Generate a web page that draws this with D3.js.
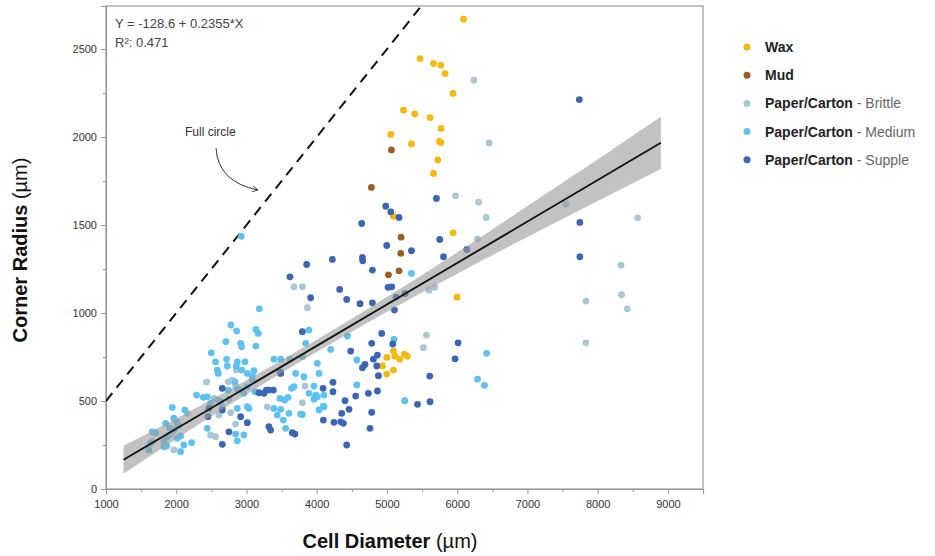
<!DOCTYPE html>
<html>
<head>
<meta charset="utf-8">
<script src="https://cdn.jsdelivr.net/npm/d3@7"></script>
<style>
  body { margin: 0; background: #fff; }
  svg { font-family: "Liberation Sans", Arial, Helvetica, sans-serif; }
</style>
</head>
<body>
<div class="chart"></div>
<script>
// categories + colours
const seriesNames = ["Wax", "Mud", "Paper/Carton - Brittle", "Paper/Carton - Medium", "Paper/Carton - Supple"];
const seriesColors = ["#f5b80c", "#9a5e24", "#a9c6d5", "#5ec2ee", "#3b66b6"];

// points: [cell diameter, corner radius] in µm
const waxPts = [[6090,2670],[5472,2446],[5663,2418],[5767,2408],[5828,2361],[5942,2248],[5235,2153],[5396,2132],
  [5614,2111],[5771,2049],[5054,2015],[5349,1961],[5748,1975],[5771,1969],[5724,1870],[5663,1793],[5942,1456],
  [6000,1090],[5092,1550],[5093,784],[4997,748],[5115,754],[5182,737],[5249,767],[5292,754],[4936,699],[5093,676],[4997,653]];

const mudPts = [[4779,1714],[5064,1927],[5201,1431],[5197,1339],[5021,1217],[5172,1240]];

const brittlePts = [[6237,2323],[6455,1967],[5976,1666],[6304,1630],[6412,1543],[6290,1422],[7548,1619],[8570,1541],
  [8332,1272],[7833,1068],[8341,1104],[8421,1024],[7833,831],[3867,1030],[5600,1130],[5681,1146],[5563,875],
  [5520,803],[3833,585],[3796,490],[3676,1149],[3796,1149],[2855,676],[2432,608],[2536,515],[2741,609],[2798,619],
  [2845,585],[2656,468],[2750,510],[2607,420],[2774,434],[2845,369],[2489,307],[2560,297],[3297,467],[1966,222],
  [1658,269],[2157,430],[1919,307]];

const mediumPts = [[6290,625],[6389,589],[6418,771],[3890,903],[3843,828],[4437,869],[5101,850],[4199,793],[4570,733],
  [3819,638],[3961,585],[3890,544],[3985,534],[3961,510],[4010,524],[4104,534],[3796,424],[4104,468],[4570,591],
  [5254,502],[3183,1024],[2778,932],[2860,898],[3135,907],[3169,884],[2707,837],[2917,828],[2931,808],[3135,812],
  [2499,774],[2717,737],[2727,699],[2560,723],[2585,676],[2599,657],[2870,723],[2855,699],[2978,723],[2931,676],
  [3012,657],[3106,672],[3083,644],[3391,738],[3487,738],[3619,738],[3700,657],[4010,714],[4033,657],[2290,534],
  [2442,524],[2593,506],[2835,609],[2741,562],[2878,566],[2931,562],[2964,544],[3012,581],[3083,619],[3120,553],
  [2632,496],[2489,487],[2870,458],[3012,468],[2845,312],[2870,274],[2442,345],[3391,458],[3439,420],[3525,392],
  [3487,453],[3605,430],[3771,426],[4095,471],[3558,345],[1943,464],[2123,449],[2385,521],[1848,373],[1966,402],
  [2005,382],[2029,364],[1909,345],[1966,335],[2062,301],[2015,288],[1824,269],[1862,244],[1824,240],[2109,250],
  [2062,212],[1658,325],[1705,320],[1634,260],[1610,222],[2218,263],[1872,297],[3796,752],[3641,572],[3676,581],
  [3477,515],[3544,506],[3591,521],[3035,458],[4033,449],[2964,307],[2926,1437],[5349,1225]];

const supplePts = [[4327,1134],[3914,1087],[4427,1077],[4617,1053],[4793,1058],[5016,1146],[5068,1149],[5130,1091],
  [5258,1111],[5107,1017],[3796,894],[4926,884],[4783,828],[5083,824],[6013,831],[5970,740],[4484,784],[4808,738],
  [4865,761],[4651,689],[4688,708],[4879,644],[4855,699],[5610,642],[4090,572],[4232,606],[4232,553],[4736,544],
  [4865,557],[4555,528],[4403,502],[4460,453],[4356,430],[4246,379],[4342,382],[4380,373],[4783,436],[4759,345],
  [4427,250],[5435,481],[5614,496],[3477,666],[3487,657],[2656,572],[3177,547],[3249,544],[3283,562],[3320,562],
  [3383,562],[2465,458],[2451,411],[3012,377],[2750,325],[2656,254],[3320,354],[3344,335],[3653,320],[3691,312],
  [2656,449],[2917,411],[4095,392],[3857,1276],[4223,1305],[4641,1509],[4651,1316],[4655,1297],[4793,1244],
  [4983,1607],[5054,1575],[4997,1384],[3619,1206],[5172,1543],[5349,1354],[5752,1418],[5805,1320],[6137,1361],
  [5705,1651],[7739,2213],[7747,1515],[7747,1320]];

const allSeries = [waxPts, mudPts, brittlePts, mediumPts, supplePts];

// regression
const intercept = -128.6, slope = 0.2355;
const fitX = [1250, 8900];
const bandX  = [1250, 2000, 3000, 4000, 5000, 6000, 7000, 8000, 8900];
const bandLo = [86, 284, 538, 778, 1007, 1224, 1432, 1637, 1819];
const bandHi = [246, 400, 618, 848, 1091, 1344, 1608, 1873, 2115];

// full circle line (radius = diameter / 2)
const circleX = [1000, 5490];
const circleY = [500, 2745];

const xTicks = [1000, 2000, 3000, 4000, 5000, 6000, 7000, 8000, 9000];
const yTicks = [0, 500, 1000, 1500, 2000, 2500];

const W = 935, H = 556;
const mLeft = 106, mRight = 703, mTop = 6, mBottom = 489;

const svg = d3.select(".chart").append("svg")
  .attr("width", W).attr("height", H);

const x = d3.scaleLinear().domain([1000, 9500]).range([mLeft, mRight]);
const y = d3.scaleLinear().domain([0, 2745]).range([mBottom, mTop]);

svg.append("clipPath").attr("id", "plot")
  .append("rect").attr("x", mLeft).attr("y", mTop)
  .attr("width", mRight - mLeft).attr("height", mBottom - mTop);

// frame
svg.append("rect")
  .attr("x", mLeft).attr("y", mTop)
  .attr("width", mRight - mLeft).attr("height", mBottom - mTop)
  .attr("fill", "none").attr("stroke", "#999").attr("stroke-width", 1.2);

// axes
svg.append("g").attr("transform", `translate(0,${mBottom})`)
  .call(d3.axisBottom(x).tickValues(xTicks).tickFormat(d3.format("d")).tickSize(5).tickPadding(6));
svg.append("g").attr("transform", `translate(0,${mBottom})`)
  .call(d3.axisBottom(x).tickValues(d3.range(1500, 9500, 1000)).tickFormat("").tickSize(3))
  .call(g => g.select(".domain").remove());
svg.append("g").attr("transform", `translate(${mLeft},0)`)
  .call(d3.axisLeft(y).tickValues(yTicks).tickFormat(d3.format("d")).tickSize(5).tickPadding(4));
svg.append("g").attr("transform", `translate(${mLeft},0)`)
  .call(d3.axisLeft(y).tickValues(d3.range(250, 2750, 500)).tickFormat("").tickSize(3))
  .call(g => g.select(".domain").remove());

svg.selectAll(".domain").attr("stroke", "#999").attr("stroke-width", 1.2);
svg.selectAll(".tick line").attr("stroke", "#999");
svg.selectAll(".tick text").attr("font-size", 11).attr("fill", "#333")
  .attr("font-family", "'Liberation Sans', Arial, sans-serif");

const plot = svg.append("g").attr("clip-path", "url(#plot)");

// full circle dashed line
plot.append("line")
  .attr("x1", x(circleX[0])).attr("y1", y(circleY[0]))
  .attr("x2", x(circleX[1])).attr("y2", y(circleY[1]))
  .attr("stroke", "#111").attr("stroke-width", 2)
  .attr("stroke-dasharray", "10,7");

// points
allSeries.forEach((pts, i) => {
  plot.append("g").selectAll("circle")
    .data(pts)
    .join("circle")
    .attr("cx", d => x(d[0]))
    .attr("cy", d => y(d[1]))
    .attr("r", 3.4)
    .attr("fill", seriesColors[i]);
});

// confidence band
const band = bandX.map((v, i) => ({ x: v, lo: bandLo[i], hi: bandHi[i] }));
plot.append("path")
  .datum(band)
  .attr("d", d3.area().x(d => x(d.x)).y0(d => y(d.lo)).y1(d => y(d.hi)).curve(d3.curveMonotoneX))
  .attr("fill", "#9a9a9a").attr("fill-opacity", 0.6);

// fit line
plot.append("line")
  .attr("x1", x(fitX[0])).attr("y1", y(intercept + slope * fitX[0]))
  .attr("x2", x(fitX[1])).attr("y2", y(intercept + slope * fitX[1]))
  .attr("stroke", "#111").attr("stroke-width", 1.8);

// equation text
svg.append("text").attr("x", 115).attr("y", 28)
  .attr("font-size", 13).attr("fill", "#444")
  .text(`Y = ${intercept} + ${slope}*X`);
svg.append("text").attr("x", 115).attr("y", 47)
  .attr("font-size", 13).attr("fill", "#444")
  .text("R²: 0.471");

// annotation
svg.append("text").attr("x", 185).attr("y", 136)
  .attr("font-size", 12).attr("fill", "#333")
  .text("Full circle");
svg.append("defs").append("marker")
  .attr("id", "arrow").attr("viewBox", "0 0 10 10")
  .attr("refX", 9).attr("refY", 5)
  .attr("markerWidth", 7).attr("markerHeight", 7)
  .attr("orient", "auto")
  .append("path").attr("d", "M1,1 L9,5 L1,9").attr("fill", "none").attr("stroke", "#333").attr("stroke-width", 1.2);
svg.append("path")
  .attr("d", "M216,148 Q218,182 258,190")
  .attr("fill", "none").attr("stroke", "#333").attr("stroke-width", 1)
  .attr("marker-end", "url(#arrow)");

// axis titles
const yt = svg.append("text")
  .attr("transform", "translate(27,250) rotate(-90)")
  .attr("text-anchor", "middle").attr("font-size", 20).attr("fill", "#111");
yt.append("tspan").attr("font-weight", "bold").text("Corner Radius");
yt.append("tspan").text(" (µm)");

const xt = svg.append("text")
  .attr("x", 390).attr("y", 548)
  .attr("text-anchor", "middle").attr("font-size", 20).attr("fill", "#111");
xt.append("tspan").attr("font-weight", "bold").text("Cell Diameter");
xt.append("tspan").text(" (µm)");

// legend
const legend = svg.append("g").attr("transform", "translate(747,47)");
seriesNames.forEach((name, i) => {
  const row = legend.append("g").attr("transform", `translate(0,${i * 28.2})`);
  row.append("circle").attr("r", 3.5).attr("fill", seriesColors[i]);
  const parts = name.split(" - ");
  const t = row.append("text").attr("x", 18).attr("y", 5).attr("font-size", 14);
  t.append("tspan").attr("font-weight", "bold").attr("fill", "#222").text(parts[0]);
  if (parts[1]) t.append("tspan").attr("fill", "#666").text(" - " + parts[1]);
});
</script>
</body>
</html>
